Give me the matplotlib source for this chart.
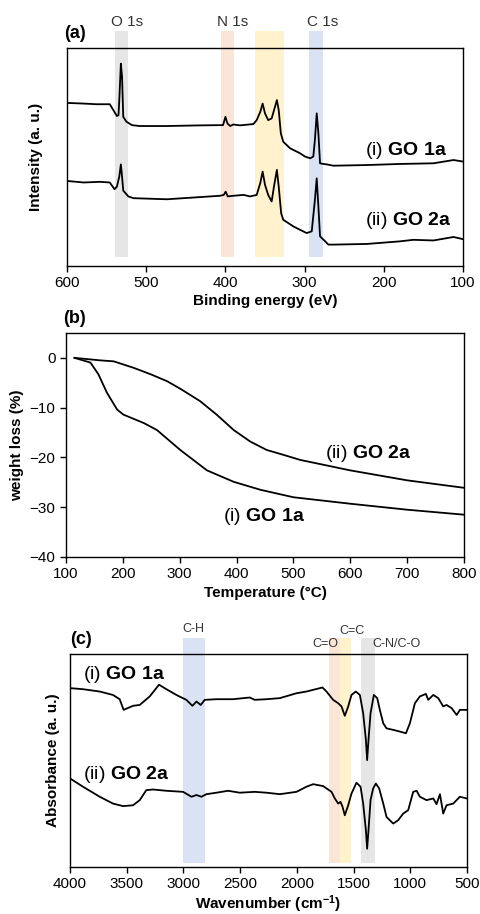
import matplotlib
matplotlib.use("Agg")
import matplotlib.pyplot as plt
import matplotlib.transforms as mtrans

plt.rcParams['font.family'] = ['Liberation Sans', 'DejaVu Sans']
plt.rcParams['mathtext.fontset'] = 'custom'
plt.rcParams['mathtext.rm'] = 'Liberation Sans'
plt.rcParams['mathtext.it'] = 'Liberation Sans:italic'
plt.rcParams['mathtext.bf'] = 'Liberation Sans:bold'

# ---- (a) XPS survey ----
xps_be_1 = [600, 579, 563, 546, 541.5, 537, 535, 534, 532, 530.5, 529, 525, 518, 508, 474, 432,
            407, 403, 400, 397.5, 394, 390, 381.5, 364.7, 360.5, 356, 353, 350, 346, 341.6, 337.4,
            335, 332.7, 330, 327, 318.4, 314, 305.8, 299.5, 293, 289, 287, 284.7, 282.6, 280.5,
            276.3, 272, 263.7, 221.6, 179.5, 137.4, 112, 100]
xps_go1a = [74.8, 74.5, 74.2, 74.2, 71.5, 68.8, 69.2, 76.1, 92.8, 86.7, 68.4, 66.2, 64.6, 64.2, 64.2, 64.5,
            64.6, 64.6, 68.4, 65.4, 64.2, 64.9, 64.5, 65.1, 66.9, 70.7, 74.5, 70.0, 66.9, 67.7, 73.0,
            76.1, 71.5, 60.8, 57.0, 54.0, 53.2, 51.7, 50.2, 49.4, 50.2, 57.8, 70.0, 60.8, 47.1,
            46.8, 46.6, 46.0, 46.3, 46.8, 47.1, 48.6, 47.9]
xps_be_2 = [600, 579, 558, 546, 540, 537, 534, 532, 530.5, 529, 522.6, 516, 474, 432, 407, 402, 399.7,
            397, 390, 377, 369, 360.5, 356, 353, 350, 346, 341.6, 338.7, 335, 332.7, 329.6, 327,
            314, 305.8, 297.4, 291, 287, 284.7, 282.6, 280.5, 274, 270, 263.7, 221.6, 179.5, 162.7,
            137.4, 112, 100]
xps_go2a = [39.0, 38.3, 38.6, 38.3, 35.2, 36.4, 41.0, 46.6, 41.0, 34.6, 31.9, 31.1, 30.6, 31.6, 32.2, 32.6, 34.1,
            31.9, 32.2, 32.6, 31.9, 32.6, 38.0, 43.3, 37.2, 32.6, 29.6, 36.4, 44.1, 36.4, 24.2, 21.2,
            18.1, 16.6, 15.1, 15.9, 30.3, 40.2, 27.3, 13.6, 11.3, 9.8, 9.8, 10.1, 11.3, 12.0,
            11.7, 13.3, 12.3]
xps_bands = [(540, 523, '#e6e6e6', 'O 1s', 544), (406, 389, '#fbe5d6', 'N 1s', 410),
             (363, 326, '#fff2cc', None, None), (294, 277, '#dae3f3', 'C 1s', 297)]

# ---- (b) TGA ----
tga_t1 = [115, 143, 157, 172, 190, 201, 237, 260, 301, 348, 395, 442, 500, 600, 700, 800]
tga_go1a = [0, -0.95, -3.3, -7.0, -10.4, -11.4, -13.1, -14.5, -18.5, -22.6, -24.9, -26.5, -28.0, -29.3, -30.5, -31.5]
tga_t2 = [115, 160, 184, 219, 249, 278, 301, 336, 365, 395, 424, 453, 483, 512, 600, 700, 800]
tga_go2a = [0, -0.5, -0.7, -2.0, -3.3, -4.7, -6.2, -8.7, -11.4, -14.5, -16.8, -18.5, -19.5, -20.5, -22.6, -24.6, -26.1]

# ---- (c) FTIR ----
ir_wn_1 = [4000, 3885, 3738, 3621, 3562, 3527, 3444, 3385, 3297, 3215, 3150, 3062, 2974, 2921, 2885,
           2847, 2812, 2709, 2562, 2415, 2371, 2268, 2150, 2003, 1915, 1856, 1774, 1738, 1680, 1635,
           1606, 1577, 1547, 1518, 1480, 1444, 1415, 1391, 1380, 1368, 1350, 1321, 1291, 1268, 1238,
           1209, 1150, 1091, 1038, 1003, 959, 915, 862, 841, 797, 753, 709, 680, 635, 591, 562, 503]
ir_go1a = [84.0, 83.5, 82.4, 80.8, 78.8, 73.8, 75.7, 76.1, 80.1, 85.6, 83.5, 80.8, 78.5, 75.7, 77.7,
           76.1, 78.5, 78.8, 78.8, 79.6, 78.5, 78.8, 79.3, 81.6, 82.4, 83.2, 84.3, 82.4, 78.5, 76.9,
           75.4, 71.0, 75.4, 80.8, 82.4, 80.8, 72.2, 59.7, 50.2, 59.7, 72.2, 80.8, 79.3, 73.8, 67.5,
           65.1, 64.4, 63.6, 62.8, 67.5, 76.9, 80.1, 81.3, 78.5, 80.8, 79.3, 75.4, 76.1, 74.6, 71.4, 73.8, 73.8]
ir_wn_2 = [4000, 3885, 3738, 3621, 3532, 3444, 3385, 3327, 3268, 3150, 3003, 2929, 2885, 2841, 2797,
           2709, 2606, 2503, 2371, 2268, 2150, 2003, 1915, 1856, 1768, 1694, 1665, 1635, 1615, 1597,
           1577, 1547, 1518, 1474, 1438, 1415, 1391, 1380, 1368, 1350, 1327, 1303, 1274, 1238, 1209,
           1150, 1106, 1062, 1018, 974, 944, 915, 856, 797, 768, 738, 709, 680, 621, 562, 503]
ir_go2a = [41.6, 37.7, 33.0, 29.8, 28.6, 29.0, 31.4, 36.1, 36.4, 35.8, 35.3, 33.0, 33.8, 33.0, 34.2,
           34.9, 35.8, 34.9, 35.3, 34.9, 34.2, 35.3, 37.7, 38.9, 38.0, 35.3, 32.2, 29.8, 30.6, 28.3,
           24.3, 29.0, 34.5, 39.6, 37.7, 29.8, 17.3, 8.6, 17.3, 31.4, 36.9, 39.2, 36.9, 29.8, 23.5,
           20.4, 22.0, 25.1, 26.7, 35.3, 35.8, 33.0, 31.4, 32.2, 29.5, 34.2, 25.1, 29.0, 29.8, 33.0, 32.2]
ir_bands = [(3000, 2810, '#dae3f3'), (1715, 1615, '#fbe5d6'), (1615, 1522, '#fff2cc'), (1435, 1310, '#e6e6e6')]
ir_band_labels = [('C-H', 3013, 1.117), ('C=C', 1629, 1.108), ('C=O', 1866, 1.047), ('C-N/C-O', 1338, 1.047)]

LW = 1.3
TICK = 11
LAB = 14

fig = plt.figure(figsize=(4.8, 9.14), dpi=100)
ax1 = fig.add_axes([0.1396, 0.709, 0.825, 0.2385])
ax2 = fig.add_axes([0.1375, 0.3906, 0.829, 0.2451])
ax3 = fig.add_axes([0.1458, 0.0514, 0.827, 0.233])

for ax in (ax1, ax2, ax3):
    for s in ax.spines.values():
        s.set_linewidth(1.0)
    ax.tick_params(direction='out', length=4, width=1.0, labelsize=TICK)

# (a)
for lo, hi, c, lab, lx in xps_bands:
    ax1.axvspan(hi, lo, ymin=0.041, ymax=1.078, color=c, lw=0, clip_on=False, zorder=0)
    if lab:
        ax1.text(lx, 1.119, lab, transform=mtrans.blended_transform_factory(ax1.transData, ax1.transAxes),
                 ha='left', va='center', fontsize=11, color='#333333')
ax1.plot(xps_be_1, xps_go1a, color='black', lw=LW)
ax1.plot(xps_be_2, xps_go2a, color='black', lw=LW)
ax1.set_xlim(600, 100)
ax1.set_ylim(0, 100)
ax1.set_xticks([600, 500, 400, 300, 200, 100])
ax1.set_yticks([])
ax1.set_xlabel('Binding energy (eV)', fontweight='bold', fontsize=11)
ax1.set_ylabel('Intensity (a. u.)', fontweight='bold', fontsize=11)
ax1.xaxis.set_label_coords(0.5, -0.13)
ax1.yaxis.set_label_coords(-0.06, 0.5)
ax1.text(0.753, 0.529, r'(i) $\mathbf{GO\ 1a}$', transform=ax1.transAxes, fontsize=LAB, va='center')
ax1.text(0.753, 0.208, r'(ii) $\mathbf{GO\ 2a}$', transform=ax1.transAxes, fontsize=LAB, va='center')

# (b)
ax2.plot(tga_t1, tga_go1a, color='black', lw=LW)
ax2.plot(tga_t2, tga_go2a, color='black', lw=LW)
ax2.set_xlim(100, 800)
ax2.set_ylim(-40, 5)
ax2.set_xticks(range(100, 801, 100))
ax2.set_yticks([0, -10, -20, -30, -40])
ax2.set_xlabel('Temperature (°C)', fontweight='bold', fontsize=11)
ax2.set_ylabel('weight loss (%)', fontweight='bold', fontsize=11)
ax2.xaxis.set_label_coords(0.5, -0.13)
ax2.yaxis.set_label_coords(-0.105, 0.5)
ax2.text(0.651, 0.46, r'(ii) $\mathbf{GO\ 2a}$', transform=ax2.transAxes, fontsize=LAB, va='center')
ax2.text(0.394, 0.18, r'(i) $\mathbf{GO\ 1a}$', transform=ax2.transAxes, fontsize=LAB, va='center')

# (c)
for lo, hi, c in ir_bands:
    ax3.axvspan(hi, lo, ymin=0.019, ymax=1.075, color=c, lw=0, clip_on=False, zorder=0)
for lab, lx, ly in ir_band_labels:
    ax3.text(lx, ly, lab, transform=mtrans.blended_transform_factory(ax3.transData, ax3.transAxes),
             ha='left', va='center', fontsize=9, color='#333333')
ax3.plot(ir_wn_1, ir_go1a, color='black', lw=LW)
ax3.plot(ir_wn_2, ir_go2a, color='black', lw=LW)
ax3.set_xlim(4000, 500)
ax3.set_ylim(0, 100)
ax3.set_xticks(range(4000, 499, -500))
ax3.set_yticks([])
ax3.set_xlabel(r'Wavenumber (cm$^{\mathbf{-1}}$)', fontweight='bold', fontsize=11)
ax3.set_ylabel('Absorbance (a. u.)', fontweight='bold', fontsize=11)
ax3.xaxis.set_label_coords(0.5, -0.122)
ax3.yaxis.set_label_coords(-0.025, 0.5)
ax3.text(0.033, 0.906, r'(i) $\mathbf{GO\ 1a}$', transform=ax3.transAxes, fontsize=LAB, va='center')
ax3.text(0.033, 0.435, r'(ii) $\mathbf{GO\ 2a}$', transform=ax3.transAxes, fontsize=LAB, va='center')

fig.text(64 / 480, 0.9636, '(a)', fontweight='bold', fontsize=13, va='center')
fig.text(63 / 480, 0.652, '(b)', fontweight='bold', fontsize=13, va='center')
fig.text(70 / 480, 0.2998, '(c)', fontweight='bold', fontsize=13, va='center')

fig.savefig('out.png', dpi=100)
